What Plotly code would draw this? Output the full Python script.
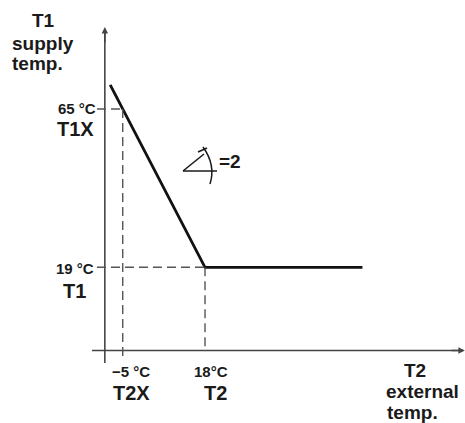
import plotly.graph_objects as go

# Heating curve data (°C)
t2_curve = [-8.5, -5, 18, 62]      # external temp
t1_curve = [72, 65, 19, 19]        # supply temp
t2x, t1x = -5, 65                  # design point
t2_ref, t1_ref = 18, 19            # base point
slope_label = "=2"

W, H = 465, 423
x_range = [-39.3, 90.66]
y_range = [-26.25, 96.68]
axis_x = -10      # position of vertical axis
axis_y = -5.2     # position of horizontal axis

FONT = "Liberation Sans"
INK = "#1a1a1a"
DASH = "#555555"
AX = "#444444"

fig = go.Figure()

# main curve
fig.add_trace(go.Scatter(x=t2_curve, y=t1_curve, mode="lines",
                         line=dict(color="#111111", width=2.8), hoverinfo="skip"))

shapes = []
# axes
shapes.append(dict(type="line", x0=axis_x, x1=axis_x, y0=-8.8, y1=87.4,
                   line=dict(color=AX, width=1.6)))
shapes.append(dict(type="line", x0=-13.6, x1=90.0, y0=axis_y, y1=axis_y,
                   line=dict(color=AX, width=1.6)))
# dashed reference lines
dash = "9px,5px"
shapes.append(dict(type="line", x0=-12.2, x1=t2x, y0=t1x, y1=t1x,
                   line=dict(color=DASH, width=1.4, dash=dash)))
shapes.append(dict(type="line", x0=t2x, x1=t2x, y0=t1x, y1=-7.0,
                   line=dict(color=DASH, width=1.4, dash=dash)))
shapes.append(dict(type="line", x0=-12.2, x1=t2_ref, y0=t1_ref, y1=t1_ref,
                   line=dict(color=DASH, width=1.4, dash=dash)))
shapes.append(dict(type="line", x0=t2_ref, x1=t2_ref, y0=t1_ref, y1=axis_y,
                   line=dict(color=DASH, width=1.4, dash=dash)))

# slope symbol (paper coords from page pixels)
def px(xp, yp):
    return xp / W, 1 - yp / H

def seg(a, b, width=1.6):
    x0, y0 = px(*a); x1, y1 = px(*b)
    shapes.append(dict(type="line", xref="paper", yref="paper", x0=x0, y0=y0,
                       x1=x1, y1=y1, line=dict(color=INK, width=width)))

seg((183, 171), (217, 171))
seg((183, 171), (204, 154))
a0x, a0y = px(203, 147); acx, acy = px(216, 165); a1x, a1y = px(210, 184)
shapes.append(dict(type="path", xref="paper", yref="paper",
                   path=f"M{a0x},{a0y} Q{acx},{acy} {a1x},{a1y}",
                   line=dict(color=INK, width=1.5)))
seg((198, 152), (207, 148), 1.5)

# arrow heads of axes
fig.add_annotation(x=axis_x, y=88.8, ax=axis_x, ay=84, xref="x", yref="y",
                   axref="x", ayref="y", showarrow=True, arrowhead=2, arrowsize=0.8,
                   arrowwidth=1.6, arrowcolor=AX, text="")
fig.add_annotation(x=90.6, y=axis_y, ax=86.5, ay=axis_y, xref="x", yref="y",
                   axref="x", ayref="y", showarrow=True, arrowhead=2, arrowsize=0.8,
                   arrowwidth=1.6, arrowcolor=AX, text="")

def lab(x, y, s, size, xanchor="center", xshift=0, yshift=0):
    fig.add_annotation(x=x, y=y, xref="x", yref="y", text=s, showarrow=False,
                       xanchor=xanchor, yanchor="middle", xshift=xshift, yshift=yshift,
                       font=dict(family=FONT, size=size, color=INK))

def ptxt(xp, yp, s, size, xanchor="center"):
    x, y = px(xp, yp)
    fig.add_annotation(x=x, y=y, xref="paper", yref="paper", text=s, showarrow=False,
                       xanchor=xanchor, yanchor="middle", borderpad=0,
                       font=dict(family=FONT, size=size, color=INK))

# tick-like labels
lab(axis_x, t1x, f"<b>{t1x} °C</b>", 15, "right", xshift=-7, yshift=1)
lab(axis_x, t1x, "<b>T1X</b>", 20, "right", xshift=-9, yshift=-20)
lab(axis_x, t1_ref, f"<b>{t1_ref} °C</b>", 15, "right", xshift=-9, yshift=-1)
lab(axis_x, t1_ref, "<b>T1</b>", 20, "center", xshift=-30, yshift=-24)
lab(t2x, axis_y, f"<b>−5 °C</b>", 15, xshift=8, yshift=-21)
lab(t2x, axis_y, "<b>T2X</b>", 20, xshift=9, yshift=-42)
lab(t2_ref, axis_y, f"<b>{t2_ref}°C</b>", 15, xshift=6, yshift=-21)
lab(t2_ref, axis_y, "<b>T2</b>", 20, xshift=10, yshift=-42)

# axis titles
ptxt(43, 21, "<b>T1</b>", 19)
ptxt(11, 43, "<b>supply</b>", 19, "left")
ptxt(11, 63, "<b>temp.</b>", 19, "left")
ptxt(415, 370, "<b>T2</b>", 19)
ptxt(385, 391, "<b>external</b>", 19, "left")
ptxt(386, 412, "<b>temp.</b>", 19, "left")
ptxt(218, 161, f"<b>{slope_label}</b>", 19, "left")

fig.update_layout(
    width=W, height=H, margin=dict(l=0, r=0, t=0, b=0),
    paper_bgcolor="white", plot_bgcolor="white", showlegend=False,
    shapes=shapes,
    xaxis=dict(range=x_range, visible=False, fixedrange=True),
    yaxis=dict(range=y_range, visible=False, fixedrange=True),
)

fig.write_html("out.html", config={"displayModeBar": False},
               post_script="document.body.style.margin='0';document.body.style.overflow='hidden';")
